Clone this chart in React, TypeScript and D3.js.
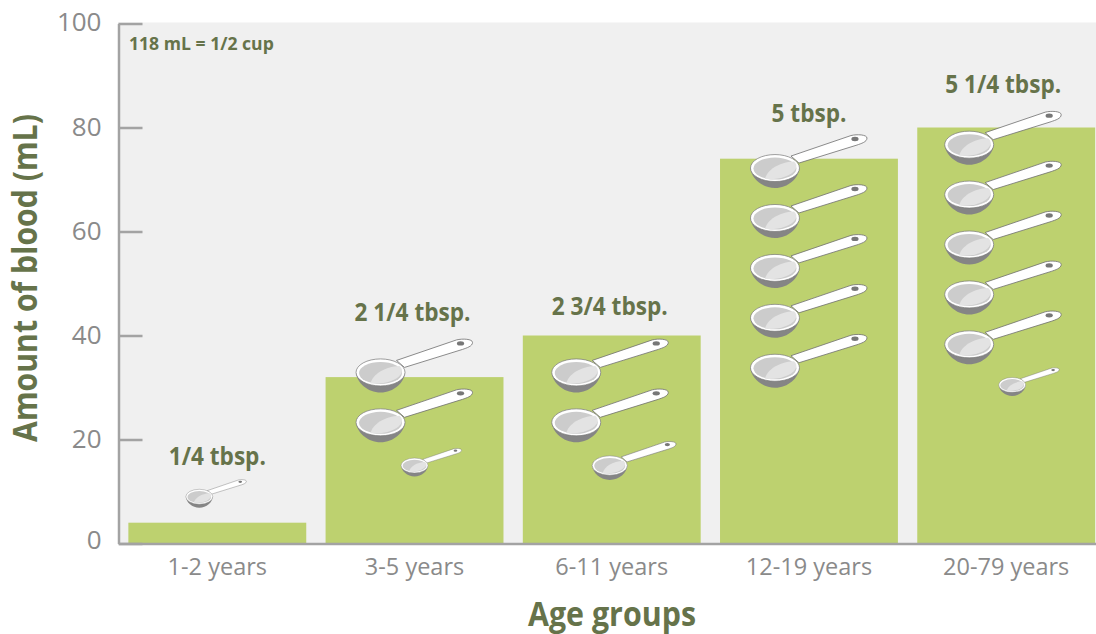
import * as d3 from "d3";
import { useEffect, useRef } from "react";

const ageGroups = ["1-2 years", "3-5 years", "6-11 years", "12-19 years", "20-79 years"];
const bloodMl = [4, 32, 40, 74, 80];
const spoonLabels = ["1/4 tbsp.", "2 1/4 tbsp.", "2 3/4 tbsp.", "5 tbsp.", "5 1/4 tbsp."];
const labelMl = [15.15, 42.85, 43.85, 81.15, 86.6];
const labelShift = [0, -2, -2, 0, -3];
const yTicks = [0, 20, 40, 60, 80, 100];
// number of full tablespoons per group, each drawn from the height below downwards
const fullSpoons = [0, 2, 2, 5, 5];
const firstSpoonMl = [0, 32.9, 32.9, 72.2, 76.7];
const fullSpoonShift = [0, -34, -35.5, -34, -37];
// the small spoon: height in mL, shift from the bar centre, size and handle length
const smallSpoonMl = [9, 15, 15, null, 30.5];
const smallSpoonShift = [-18, 0, -2, 0, 6];
const smallSpoonScale = [0.55, 0.55, 0.72, 0, 0.55];
const smallHandleScale = [0.93, 0.93, 1, 1, 0.93];
const spoonStepMl = 9.6;

const width = 1096;
const height = 634;
const olive = "#66734a";
const gray = "#8a8a8a";

export default function App() {
  const ref = useRef<SVGSVGElement | null>(null);

  useEffect(() => {
    const svg = d3.select(ref.current as unknown as SVGSVGElement);
    svg.selectAll("*").remove();
    svg.style("font-family", "'Open Sans'");

    const y = d3.scaleLinear().domain([0, 100]).range([543.5, 23.5]);
    const x = d3
      .scaleBand<string>()
      .domain(ageGroups)
      .range([118.5, 1105])
      .paddingInner(0.098)
      .paddingOuter(0.05);

    // plot background
    svg
      .append("rect")
      .attr("x", 118)
      .attr("y", y(100) - 1)
      .attr("width", width - 118)
      .attr("height", y(0) - y(100) + 1)
      .attr("fill", "#f0f0f0");

    // bars
    svg
      .append("g")
      .selectAll("rect")
      .data(bloodMl)
      .enter()
      .append("rect")
      .attr("x", (_, i) => x(ageGroups[i]) as number)
      .attr("y", (d) => y(d))
      .attr("width", x.bandwidth())
      .attr("height", (d) => y(0) - y(d))
      .attr("fill", "#bdd16f");

    // y axis
    const yAxis = svg
      .append("g")
      .attr("transform", "translate(118.5,0)")
      .call(d3.axisLeft(y).tickValues(yTicks).tickSizeInner(-24).tickSizeOuter(0).tickPadding(17));
    yAxis.select(".domain").attr("stroke", "#a3a3a3").attr("stroke-width", 2.5);
    yAxis.selectAll("line").attr("stroke", "#a3a3a3").attr("stroke-width", 2.5);
    yAxis
      .selectAll("text")
      .attr("font-size", "26px")
      .attr("font-family", "'Open Sans'")
      .attr("fill", gray)
      .attr("dy", (d) => (d === 0 ? "0.2em" : d === 100 ? "0.27em" : "0.32em"));

    // x axis
    const xAxis = svg
      .append("g")
      .attr("transform", `translate(0,${y(0)})`)
      .call(d3.axisBottom(x).tickSize(0).tickPadding(15));
    xAxis.select(".domain").attr("stroke", "#a3a3a3").attr("stroke-width", 2.5);
    xAxis
      .selectAll("text")
      .attr("font-size", "23.5px")
      .attr("font-family", "'Open Sans'")
      .attr("fill", gray);

    // spoons
    const drawSpoon = (cx: number, cy: number, scale: number, handleScale: number) => {
      const g = svg.append("g").attr("transform", `translate(${cx},${cy}) scale(${scale})`);
      const handle = g.append("g").attr("transform", `scale(${handleScale})`);
      handle
        .append("path")
        .attr("d", "M16,-12 L76,-32.5 C82,-34 92,-33.5 92,-30 C92,-26 86,-24.5 82,-23 L24,-5 Z")
        .attr("fill", "#fff")
        .attr("stroke", "#6e6e6e")
        .attr("stroke-width", 0.8);
      handle
        .append("ellipse")
        .attr("cx", 80)
        .attr("cy", -29)
        .attr("rx", 3.6)
        .attr("ry", 2.2)
        .attr("fill", "#777");
      g.append("path")
        .attr("d", "M-24.5,0 C-24,10 -13,20 0,20 C13,20 24,10 24.5,0 Z")
        .attr("fill", "#858585");
      g.append("ellipse")
        .attr("rx", 24.5)
        .attr("ry", 13.5)
        .attr("fill", "#fff")
        .attr("stroke", "#777")
        .attr("stroke-width", 0.7);
      g.append("ellipse")
        .attr("cy", 0.5)
        .attr("rx", 21.5)
        .attr("ry", 11)
        .attr("fill", "#cccccc");
      g.append("path")
        .attr("d", "M-10,11 C-8,2 4,-6 19,-6.5 C22,-4 22,-1 20,2 C16,8 4,12 -10,11 Z")
        .attr("fill", "#e3e3e3");
    };

    ageGroups.forEach((group, i) => {
      const center = (x(group) as number) + x.bandwidth() / 2;
      d3.range(fullSpoons[i]).forEach((k) => {
        drawSpoon(center + fullSpoonShift[i], y(firstSpoonMl[i] - k * spoonStepMl), 1, 1);
      });
      const small = smallSpoonMl[i];
      if (small !== null) {
        drawSpoon(center + smallSpoonShift[i], y(small), smallSpoonScale[i], smallHandleScale[i]);
      }
    });

    // tablespoon labels, the source type is a little taller than Open Sans
    svg
      .append("g")
      .selectAll("text")
      .data(spoonLabels)
      .enter()
      .append("text")
      .attr(
        "transform",
        (_, i) =>
          `translate(${(x(ageGroups[i]) as number) + x.bandwidth() / 2 + labelShift[i]},${y(labelMl[i])}) scale(1,1.07)`
      )
      .attr("text-anchor", "middle")
      .attr("font-size", "22.6px")
      .attr("font-weight", 700)
      .attr("fill", olive)
      .text((d) => d);

    svg
      .append("text")
      .attr("transform", "translate(129,49.5) scale(1,1.05)")
      .attr("font-size", "17.6px")
      .attr("font-weight", 700)
      .attr("fill", olive)
      .text("118 mL = 1/2 cup");

    // axis titles
    svg
      .append("text")
      .attr("transform", "translate(612,626) scale(1,1.1)")
      .attr("text-anchor", "middle")
      .attr("font-size", "30.4px")
      .attr("font-weight", 700)
      .attr("fill", olive)
      .text("Age groups");

    svg
      .append("text")
      .attr("transform", "translate(37,278) rotate(-90) scale(1,1.12)")
      .attr("text-anchor", "middle")
      .attr("font-size", "30.2px")
      .attr("font-weight", 700)
      .attr("fill", olive)
      .text("Amount of blood (mL)");
  }, []);

  return (
    <svg
      ref={ref}
      width={width}
      height={height}
      viewBox={`0 0 ${width} ${height}`}
      style={{ position: "absolute", left: 0, top: 0 }}
    />
  );
}
